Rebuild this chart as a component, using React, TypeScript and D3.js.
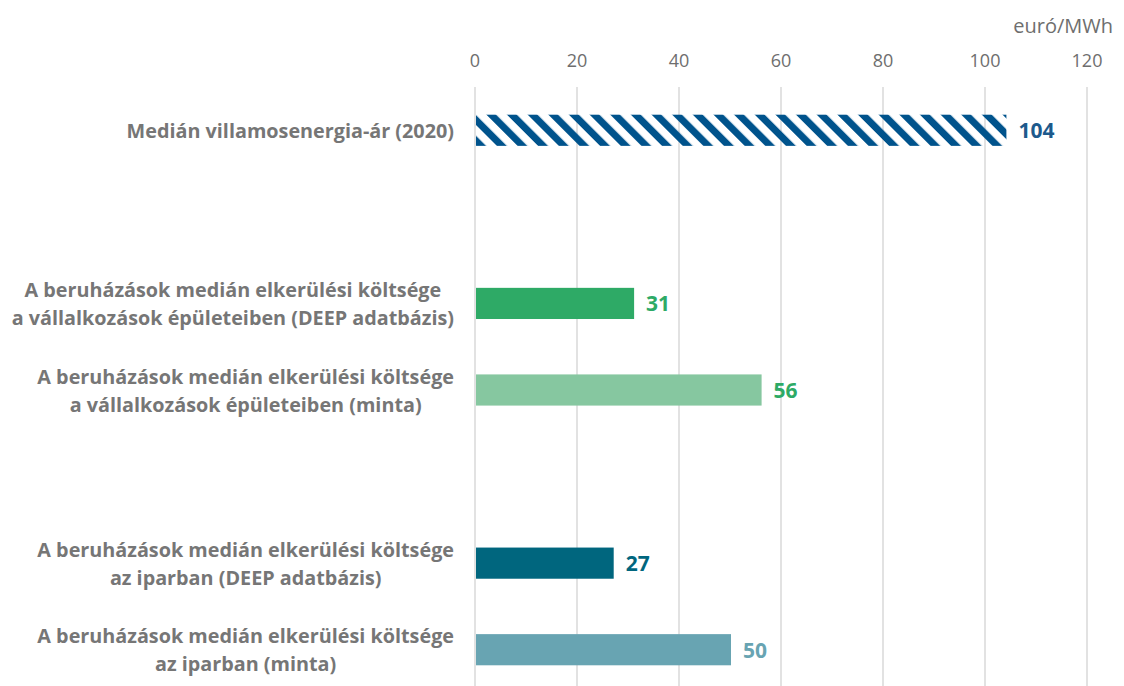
import React, { useEffect, useRef } from "react";
import * as d3 from "d3";

const categories: (string[] | null)[] = [
  ["Medián villamosenergia-ár (2020)"],
  null,
  ["A beruházások medián elkerülési költsége", "a vállalkozások épületeiben (DEEP adatbázis)"],
  ["A beruházások medián elkerülési költsége", "a vállalkozások épületeiben (minta)"],
  null,
  ["A beruházások medián elkerülési költsége", "az iparban (DEEP adatbázis)"],
  ["A beruházások medián elkerülési költsége", "az iparban (minta)"],
];
const values: (number | null)[] = [104, null, 31, 56, null, 27, 50];
const barColors: (string | null)[] = ["hatch", null, "#2eaa66", "#86c7a0", null, "#00667e", "#68a4b2"];
const labelColors: (string | null)[] = ["#1d5a8c", null, "#2eaa66", "#2eaa66", null, "#00667e", "#68a4b2"];
const ticks = [0, 20, 40, 60, 80, 100, 120];
const unitLabel = "euró/MWh";

const W = 1124;
const H = 686;

export default function App() {
  const ref = useRef<SVGSVGElement | null>(null);

  useEffect(() => {
    const svg = d3.select(ref.current);
    svg.selectAll("*").remove();

    const x = d3.scaleLinear().domain([0, 120]).range([475, 1087]);
    const slots = categories.map((_, i) => String(i));
    const y = d3.scaleBand().domain(slots).range([87, 693]).paddingInner(0.64).paddingOuter(0.32);

    const defs = svg.append("defs");
    const pat = defs
      .append("pattern")
      .attr("id", "hatch")
      .attr("patternUnits", "userSpaceOnUse")
      .attr("width", 14.6)
      .attr("height", 14.6)
      .attr("patternTransform", "rotate(-45)");
    pat.append("rect").attr("x", 0).attr("y", 0).attr("width", 7.0).attr("height", 14.6).attr("fill", "#00538c");

    // gridlines
    svg
      .append("g")
      .selectAll("line")
      .data(ticks)
      .join("line")
      .attr("x1", (d) => x(d))
      .attr("x2", (d) => x(d))
      .attr("y1", 87)
      .attr("y2", H)
      .attr("stroke", "#d9d9d9")
      .attr("stroke-width", 1.5);

    // tick labels
    svg
      .append("g")
      .selectAll("text")
      .data(ticks)
      .join("text")
      .attr("x", (d) => x(d))
      .attr("y", 60)
      .attr("text-anchor", "middle")
      .attr("dominant-baseline", "central")
      .attr("font-family", "'Open Sans', sans-serif")
      .attr("font-size", 18)
      .attr("fill", "#6e6e6e")
      .text((d) => String(d));

    svg
      .append("text")
      .attr("x", 1113)
      .attr("y", 25)
      .attr("text-anchor", "end")
      .attr("dominant-baseline", "central")
      .attr("font-family", "'Open Sans', sans-serif")
      .attr("font-size", 20)
      .attr("fill", "#6e6e6e")
      .text(unitLabel);

    // bars
    const idx = values.map((v, i) => i).filter((i) => values[i] != null);
    const bh = y.bandwidth();
    svg
      .append("g")
      .selectAll("rect")
      .data(idx)
      .join("rect")
      .attr("x", x(0) + 1)
      .attr("y", (i) => y(String(i))!)
      .attr("width", (i) => x(values[i]!) - x(0))
      .attr("height", bh)
      .attr("fill", (i) => (barColors[i] === "hatch" ? "url(#hatch)" : barColors[i]!));

    // value labels
    svg
      .append("g")
      .selectAll("text")
      .data(idx)
      .join("text")
      .attr("x", (i) => x(values[i]!) + 13)
      .attr("y", (i) => y(String(i))! + bh / 2)
      .attr("dominant-baseline", "central")
      .attr("font-family", "'Open Sans', sans-serif")
      .attr("font-weight", 700)
      .attr("font-size", 21)
      .attr("fill", (i) => labelColors[i]!)
      .text((i) => String(values[i]));

    // category labels
    const rightEdge = 454;
    const lineH = 28;
    idx.forEach((i) => {
      const lines = categories[i]!;
      const cy = y(String(i))! + bh / 2;
      const g = svg.append("g");
      const texts = lines.map((ln, k) =>
        g
          .append("text")
          .attr("y", cy + (k - (lines.length - 1) / 2) * lineH)
          .attr("text-anchor", "middle")
          .attr("dominant-baseline", "central")
          .attr("font-family", "'Open Sans', sans-serif")
          .attr("font-weight", 700)
          .attr("font-size", 19.8)
          .attr("fill", "#767676")
          .text(ln)
      );
      const maxW = d3.max(texts, (t) => (t.node() as SVGTextElement).getComputedTextLength()) || 0;
      texts.forEach((t) => t.attr("x", rightEdge - maxW / 2));
    });
  }, []);

  return (
    <svg
      ref={ref}
      width={W}
      height={H}
      style={{ position: "absolute", left: 0, top: 0, display: "block", background: "#fff" }}
    />
  );
}
